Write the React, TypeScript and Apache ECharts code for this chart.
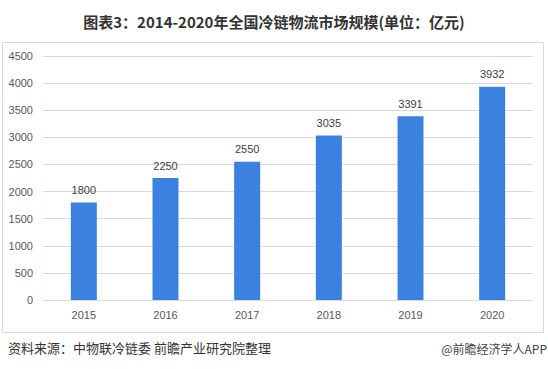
import React, { useEffect, useRef } from "react";
import * as echarts from "echarts";

const categories = ["2015", "2016", "2017", "2018", "2019", "2020"];
const values = [1800, 2250, 2550, 3035, 3391, 3932];
const titleText = "图表3：2014-2020年全国冷链物流市场规模(单位：亿元)";
const sourceText = "资料来源：中物联冷链委 前瞻产业研究院整理";
const brandText = "@前瞻经济学人APP";

export default function App() {
  const ref = useRef<HTMLDivElement>(null);
  useEffect(() => {
    const chart = echarts.init(ref.current!, null, { renderer: "svg" });
    chart.setOption({
      animation: false,
      backgroundColor: "#fff",
      title: {
        text: titleText,
        left: "center",
        top: 9,
        textStyle: {
          fontFamily: "Noto Sans CJK SC",
          fontSize: 15,
          fontWeight: "bold",
          color: "#333",
        },
      },
      graphic: [
        {
          type: "rect",
          shape: { x: 2.5, y: 42.5, width: 541, height: 290 },
          style: { fill: "none", stroke: "#d9d9d9", lineWidth: 1 },
          silent: true,
        },
        {
          type: "text",
          left: 8,
          top: 341,
          style: {
            text: sourceText,
            fontFamily: "Noto Sans CJK SC",
            fontSize: 13,
            fill: "#333",
          },
        },
        {
          type: "text",
          right: 1,
          top: 342,
          style: {
            text: brandText,
            fontFamily: "Noto Sans CJK SC",
            fontSize: 12,
            fill: "#444",
          },
        },
      ],
      grid: { left: 43, right: 15, top: 56, bottom: 69, containLabel: false },
      xAxis: {
        type: "category",
        data: categories,
        axisLine: { lineStyle: { color: "#d9d9d9" } },
        axisTick: { show: false },
        axisLabel: { color: "#595959", fontSize: 11, fontFamily: "Liberation Sans", margin: 9 },
      },
      yAxis: {
        type: "value",
        min: 0,
        max: 4500,
        interval: 500,
        axisLine: { show: false },
        axisTick: { show: false },
        splitLine: { lineStyle: { color: "#d9d9d9" } },
        axisLabel: {
          color: "#595959",
          fontSize: 11,
          fontFamily: "Liberation Sans",
          margin: 10,
          formatter: (v: number) => String(v),
        },
      },
      series: [
        {
          type: "bar",
          data: values,
          barWidth: 26,
          itemStyle: { color: "#3b82e0" },
          label: {
            show: true,
            position: "top",
            color: "#404040",
            fontSize: 11,
            fontFamily: "Liberation Sans",
            distance: 7,
          },
        },
      ],
    });
    return () => chart.dispose();
  }, []);
  return <div ref={ref} style={{ width: 548, height: 369, position: "absolute", left: 0, top: 0 }} />;
}
